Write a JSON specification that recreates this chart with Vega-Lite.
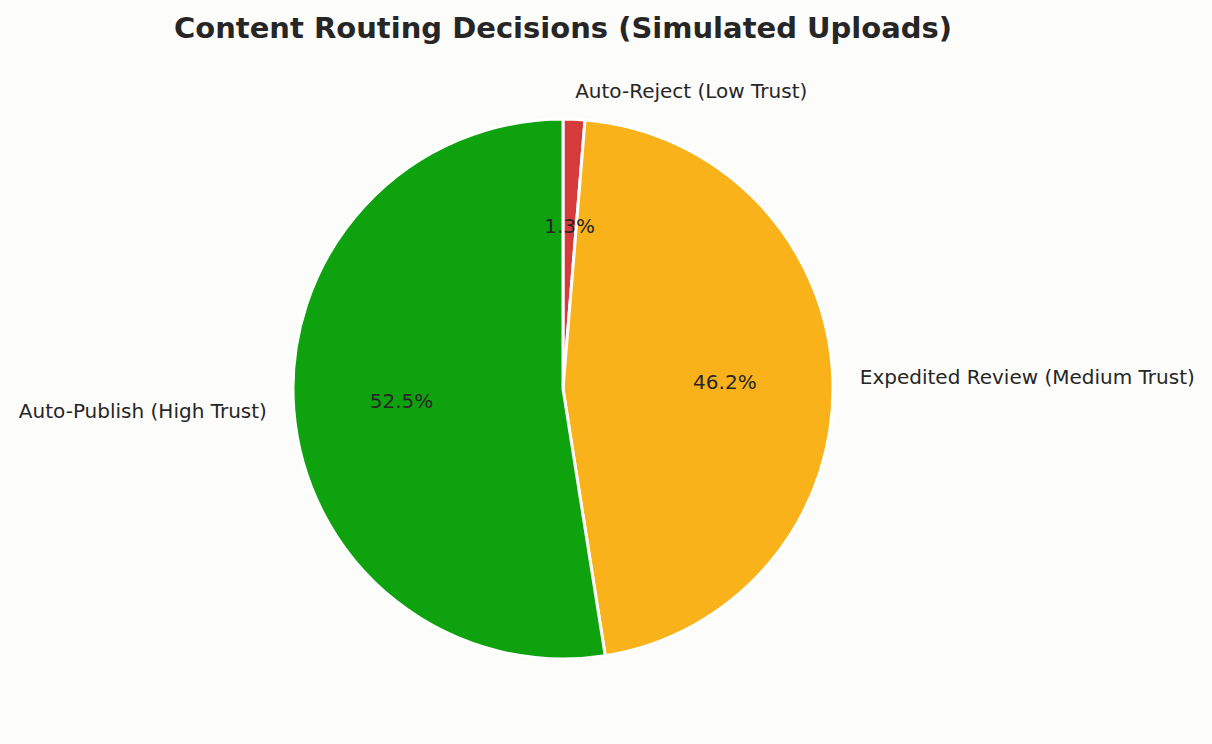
{
  "$schema": "https://vega.github.io/schema/vega-lite/v6.json",
  "width": 1126,
  "height": 710,
  "autosize": {"type": "none"},
  "padding": {"left": 0, "top": 34, "right": 86, "bottom": 0},
  "background": "#fcfcfa",
  "title": {
    "text": "Content Routing Decisions (Simulated Uploads)",
    "font": "DejaVu Sans",
    "fontSize": 29,
    "fontWeight": "bold",
    "color": "#262626",
    "anchor": "middle",
    "offset": -10
  },
  "config": {"view": {"stroke": null}},
  "data": {
    "values": [
      {"category": "Auto-Reject (Low Trust)", "value": 1.3, "order": 1},
      {"category": "Expedited Review (Medium Trust)", "value": 46.2, "order": 2},
      {"category": "Auto-Publish (High Trust)", "value": 52.5, "order": 3}
    ]
  },
  "transform": [
    {"calculate": "format(datum.value, '.1f') + '%'", "as": "pct"}
  ],
  "encoding": {
    "theta": {"field": "value", "type": "quantitative", "stack": true, "scale": {"domain": [0, 100]}},
    "order": {"field": "order", "type": "quantitative"}
  },
  "layer": [
    {
      "mark": {"type": "arc", "outerRadius": 270, "stroke": "white", "strokeWidth": 3},
      "encoding": {
        "color": {
          "field": "category",
          "type": "nominal",
          "scale": {
            "domain": ["Auto-Reject (Low Trust)", "Expedited Review (Medium Trust)", "Auto-Publish (High Trust)"],
            "range": ["#d63b3b", "#f9b21a", "#0ea20e"]
          },
          "legend": null
        }
      }
    },
    {
      "mark": {"type": "text", "radius": 162, "font": "DejaVu Sans", "fontSize": 20, "color": "#262626", "align": "center", "baseline": "middle"},
      "encoding": {"text": {"field": "pct", "type": "nominal"}}
    },
    {
      "mark": {"type": "text", "radius": 297, "font": "DejaVu Sans", "fontSize": 20, "color": "#262626", "align": "left", "baseline": "middle"},
      "encoding": {
        "text": {"condition": {"test": "datum.category !== 'Auto-Publish (High Trust)'", "field": "category"}, "value": ""}
      }
    },
    {
      "mark": {"type": "text", "radius": 297, "font": "DejaVu Sans", "fontSize": 20, "color": "#262626", "align": "right", "baseline": "middle"},
      "encoding": {
        "text": {"condition": {"test": "datum.category === 'Auto-Publish (High Trust)'", "field": "category"}, "value": ""}
      }
    }
  ]
}
